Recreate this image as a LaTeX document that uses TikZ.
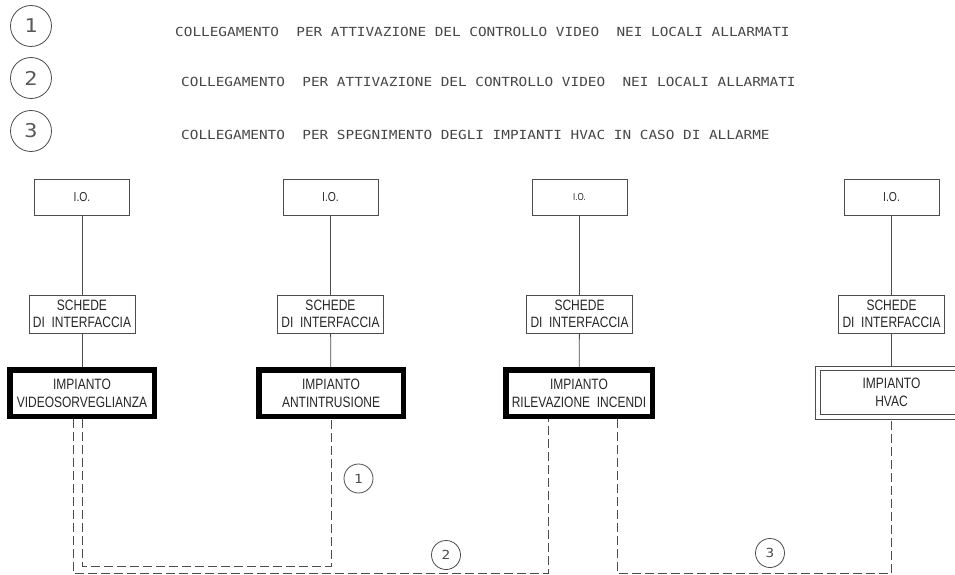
\documentclass[tikz,border=0pt]{standalone}
\usepackage{fontspec}
\setmainfont{Liberation Sans}
\newfontfamily\boxfont[FakeStretch=0.8]{Liberation Sans}
\newfontfamily\legfont[FakeStretch=1.15]{DejaVu Sans Mono}
\begin{document}
\begin{tikzpicture}[x=1pt,y=-1pt,
  ln/.style={draw=black!70, line width=0.8pt},
  iobox/.style={ln, minimum width=95pt, minimum height=36pt, inner sep=0pt, text=black!85, font=\boxfont\fontsize{13}{15}\selectfont},
  sbox/.style={ln, minimum width=106pt, minimum height=38pt, inner sep=0pt, align=center, text=black!85, font=\boxfont\fontsize{15}{17.5}\selectfont},
  ibox/.style={draw=black, line width=5.5pt, minimum width=144.5pt, minimum height=46.5pt, inner sep=0pt, align=center, text=black!85, font=\boxfont\fontsize{15}{18}\selectfont},
  hbox/.style={ln, minimum width=153pt, minimum height=53pt, inner sep=0pt, align=center, text=black!85, font=\boxfont\fontsize{15}{18}\selectfont},
  lcirc/.style={circle, ln, minimum size=41pt, inner sep=0pt, text=black!65, font=\legfont\fontsize{19}{19}\selectfont},
  scirc/.style={circle, ln, minimum size=29pt, inner sep=0pt, text=black!70, font=\legfont\fontsize{12.5}{12.5}\selectfont},
  legtext/.style={anchor=west, inner sep=0pt, text=black!72, font=\legfont\fontsize{12.5}{12.5}\selectfont},
  conn/.style={draw=black!70, line width=0.8pt},
  dsh/.style={draw=black!70, line width=0.8pt, dash pattern=on 9pt off 4pt}
]
\useasboundingbox (0,0) rectangle (955,575);
\clip (0,0) rectangle (955,575);

% legend
\node[lcirc] (L1) at (31,26) {1};
\node[lcirc] (L2) at (31,78) {2};
\node[lcirc] (L3) at (31,131) {3};
\node[legtext] (T1) at (175,31.5) {COLLEGAMENTO\ \ PER ATTIVAZIONE DEL CONTROLLO VIDEO\ \ NEI LOCALI ALLARMATI};
\node[legtext] (T2) at (181,82) {COLLEGAMENTO\ \ PER ATTIVAZIONE DEL CONTROLLO VIDEO\ \ NEI LOCALI ALLARMATI};
\node[legtext] (T3) at (181,135) {COLLEGAMENTO\ \ PER SPEGNIMENTO DEGLI IMPIANTI HVAC IN CASO DI ALLARME};

% I.O. boxes
\node[iobox] (io1) at (82,197) {I.O.};
\node[iobox] (io2) at (330.5,197) {I.O.};
\node[iobox, font=\boxfont\fontsize{10}{12}\selectfont] (io3) at (579.5,197) {I.O.};
\node[iobox] (io4) at (891.5,197) {I.O.};

% interface boxes
\node[sbox] (s1) at (82,314) {SCHEDE\\DI\ \ INTERFACCIA};
\node[sbox] (s2) at (330.5,314) {SCHEDE\\DI\ \ INTERFACCIA};
\node[sbox] (s3) at (579.5,314) {SCHEDE\\DI\ \ INTERFACCIA};
\node[sbox] (s4) at (891.5,314) {SCHEDE\\DI\ \ INTERFACCIA};

% systems
\node[ibox] (imp1) at (82,393) {IMPIANTO\\VIDEOSORVEGLIANZA};
\node[ibox] (imp2) at (331,393) {IMPIANTO\\ANTINTRUSIONE};
\node[ibox, minimum width=146.5pt] (imp3) at (579,393) {IMPIANTO\\RILEVAZIONE\ \ INCENDI};
\node[hbox] (imp4) at (891.5,392.5) {IMPIANTO\\HVAC};
\draw[ln] ([xshift=6pt,yshift=-5pt]imp4.north west) rectangle ([xshift=-6pt,yshift=5pt]imp4.south east);

% solid connectors
\foreach \i in {1,2,3,4}{
  \draw[conn] (io\i) -- (s\i);
  \draw[conn] (s\i) -- (imp\i);
}

% dashed connectors
\coordinate (b1) at (0,566);
\coordinate (b2) at (0,573);
\coordinate (v1) at ([xshift=-9pt]imp1.south);
\coordinate (v3a) at ([xshift=-31pt]imp3.south);
\coordinate (v3b) at ([xshift=38pt]imp3.south);
\draw[dsh] (imp1.south) -- (imp1.south |- b1) -| (imp2.south);
\draw[dsh] (v1) -- (v1 |- b2) -| (v3a);
\draw[dsh] (v3b) -- (v3b |- b2) -| (imp4.south);

% circled labels
\node[scirc] (c1) at (358.5,478.5) {1};
\node[scirc] (c2) at (446,555) {2};
\node[scirc] (c3) at (770,553) {3};
\end{tikzpicture}
\end{document}
